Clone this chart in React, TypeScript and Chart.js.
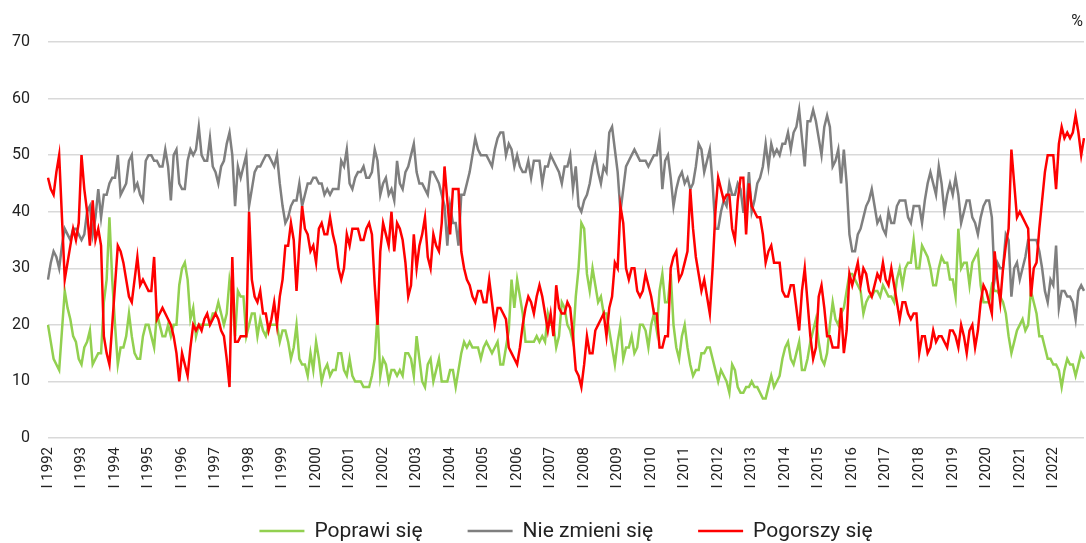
import React, { useEffect, useRef } from 'react';
import { Chart, registerables } from 'chart.js';

Chart.register(...registerables);

const MONTHS = ['I', 'II', 'III', 'IV', 'V', 'VI', 'VII', 'VIII', 'IX', 'X', 'XI', 'XII'];
const YEARS = [1992, 1993, 1994, 1995, 1996, 1997, 1998, 1999, 2000, 2001, 2002, 2003, 2004, 2005, 2006, 2007, 2008, 2009, 2010, 2011, 2012, 2013, 2014, 2015, 2016, 2017, 2018, 2019, 2020, 2021, 2022];
const LABELS = YEARS.flatMap((y) => MONTHS.map((m) => `${m} ${y}`));

const POPRAWI = [
  20, 17, 14, 13, 12, 19, 26, 23, 21, 18, 17, 14,
  13, 16, 17, 19, 13, 14, 15, 15, 24, 28, 39, 28,
  20, 13, 16, 16, 18, 22, 18, 15, 14, 14, 18, 20,
  20, 18, 16, 22, 20, 18, 18, 20, 18, 20, 20, 27,
  30, 31, 28, 21, 23, 18, 20, 20, 20, 20, 20, 22,
  22, 24, 22, 20, 22, 28, 25, 18, 26, 25, 25, 18,
  20, 22, 22, 18, 21, 19, 18, 20, 20, 20, 20, 17,
  19, 19, 17, 14, 16, 20, 14, 13, 13, 11, 15, 12,
  17, 14, 10, 12, 13, 11, 12, 12, 15, 15, 12, 11,
  14, 11, 10, 10, 10, 9, 9, 9, 11, 14, 22, 11,
  14, 13, 10, 12, 12, 11, 12, 11, 15, 15, 14, 11,
  18, 14, 10, 9, 13, 14, 10, 12, 14, 10, 10, 10,
  12, 12, 9, 12, 15, 17, 16, 17, 16, 16, 16, 14,
  16, 17, 16, 15, 16, 17, 13, 13, 16, 19, 28, 23,
  28, 25, 22, 17, 17, 17, 17, 18, 17, 18, 17, 22,
  20, 20, 16, 18, 24, 23, 20, 19, 17, 25, 30, 38,
  37, 29, 26, 30, 27, 24, 25, 22, 22, 19, 16, 13,
  17, 20, 14, 16, 16, 18, 15, 16, 20, 20, 19, 16,
  20, 22, 19, 26, 29, 24, 24, 29, 20, 16, 14, 18,
  20, 16, 13, 11, 12, 12, 15, 15, 16, 16, 14, 12,
  10, 12, 11, 10, 8, 13, 12, 9, 8, 8, 9, 9,
  10, 9, 9, 8, 7, 7, 9, 11, 9, 10, 11, 14,
  16, 17, 14, 13, 15, 17, 12, 12, 14, 17, 19, 21,
  17, 14, 13, 15, 20, 24, 21, 20, 22, 23, 26, 29,
  29, 28, 27, 26, 22, 24, 25, 25, 26, 26, 25, 27,
  26, 25, 25, 24, 28, 30, 27, 30, 31, 31, 35, 30,
  30, 34, 33, 32, 30, 27, 27, 30, 32, 31, 31, 28,
  28, 25, 37, 30, 31, 31, 27, 31, 32, 33, 27, 24,
  24, 24, 27, 26, 26, 25, 24, 22, 18, 15, 17, 19,
  20, 21, 19, 20, 26, 24, 22, 18, 18, 16, 14, 14,
  13, 13, 12, 9, 12, 14, 13, 13, 11, 13, 15, 14,
];

const NIE_ZMIENI = [
  28, 31, 33, 32, 30, 34, 37, 36, 35, 37, 37, 36,
  35, 36, 40, 41, 36, 39, 44, 39, 43, 43, 45, 46,
  46, 50, 43, 44, 45, 49, 50, 44, 45, 43, 42, 49,
  50, 50, 49, 49, 48, 48, 51, 48, 42, 50, 51, 45,
  44, 44, 49, 51, 50, 51, 55, 50, 49, 49, 53, 48,
  47, 45, 48, 49, 52, 54, 50, 41, 48, 46, 48, 50,
  41, 44, 47, 48, 48, 49, 50, 50, 49, 48, 50, 45,
  41, 38, 39, 41, 42, 42, 45, 41, 43, 45, 45, 46,
  46, 45, 45, 43, 44, 43, 44, 44, 44, 49, 48, 51,
  45, 44, 46, 47, 47, 48, 46, 46, 47, 51, 49, 43,
  45, 46, 43, 44, 42, 49, 45, 44, 47, 48, 50, 52,
  47, 45, 45, 44, 43, 47, 47, 46, 45, 43, 41, 34,
  41, 38, 38, 34, 43, 43, 45, 47, 50, 53, 51, 50,
  50, 50, 49, 48, 51, 53, 54, 54, 50, 52, 51, 48,
  50, 48, 47, 47, 49, 46, 49, 49, 49, 45, 48, 48,
  50, 49, 48, 47, 45, 48, 48, 50, 44, 48, 41, 40,
  42, 43, 45, 48, 50, 47, 45, 48, 47, 54, 55, 51,
  47, 40, 44, 48, 49, 50, 51, 50, 49, 49, 49, 48,
  49, 50, 50, 53, 44, 49, 50, 46, 41, 44, 46, 47,
  45, 46, 44, 45, 48, 52, 51, 47, 49, 51, 45, 37,
  37, 40, 42, 41, 45, 43, 43, 45, 44, 40, 40, 47,
  40, 42, 45, 46, 48, 52, 48, 52, 50, 51, 50, 52,
  52, 54, 51, 54, 55, 58, 53, 48, 56, 56, 58, 56,
  53, 50, 55, 57, 55, 48, 49, 51, 45, 51, 45, 36,
  33, 33, 36, 37, 39, 41, 42, 44, 41, 38, 39, 37,
  36, 40, 38, 38, 41, 42, 42, 42, 39, 38, 41, 41,
  41, 38, 42, 45, 47, 45, 43, 48, 45, 40, 43, 45,
  43, 46, 43, 38, 40, 42, 42, 39, 38, 36, 39, 41,
  42, 42, 39, 28, 31, 30, 30, 36, 35, 25, 30, 31,
  28, 30, 32, 35, 35, 35, 35, 33, 30, 26, 24, 28,
  27, 34, 23, 26, 26, 25, 25, 24, 21, 26, 27, 26,
];

const POGORSZY = [
  46, 44, 43, 47, 50, 39, 28, 31, 34, 37, 35, 38,
  50, 44, 40, 34, 42, 35, 37, 34, 18, 15, 13, 20,
  27, 34, 33, 31, 28, 25, 24, 28, 32, 27, 28, 27,
  26, 26, 32, 21, 22, 23, 22, 21, 20, 18, 15, 10,
  15, 13, 11, 16, 20, 19, 20, 19, 21, 22, 20, 21,
  22, 21, 19, 18, 14, 9, 32, 17, 17, 18, 18, 18,
  40, 28, 25, 24, 26, 22, 22, 19, 21, 24, 20, 25,
  28, 34, 34, 38, 35, 26, 34, 41, 37, 36, 33, 34,
  31, 37, 38, 36, 36, 39, 36, 34, 30, 28, 30, 36,
  34, 37, 37, 37, 35, 35, 37, 38, 36, 27, 20, 33,
  38, 36, 34, 40, 33, 38, 37, 35, 31, 25, 27, 36,
  30, 34, 36, 39, 32, 30, 36, 34, 33, 38, 48, 42,
  36, 44, 44, 44, 33, 30, 28, 27, 25, 24, 26, 26,
  24, 24, 28, 24, 20, 23, 23, 22, 21, 16, 15, 14,
  13, 16, 20, 23, 25, 24, 22, 25, 27, 25, 22, 19,
  22, 18, 27, 23, 22, 22, 24, 23, 18, 12, 11, 9,
  13, 18, 15, 15, 19, 20, 21, 22, 18, 23, 25, 31,
  30, 41, 38, 30, 28, 30, 30, 26, 25, 26, 29, 27,
  25, 22, 22, 16, 16, 18, 18, 30, 32, 33, 28, 29,
  31, 33, 44, 37, 32, 29, 26, 28, 25, 22, 30, 40,
  46, 44, 42, 43, 43, 37, 35, 42, 46, 46, 36, 45,
  41, 40, 39, 39, 36, 31, 33, 34, 31, 31, 31, 26,
  25, 25, 27, 27, 23, 19, 26, 30, 24, 18, 14, 16,
  25, 27, 23, 18, 18, 16, 16, 16, 23, 15, 19, 29,
  27, 29, 31, 27, 30, 29, 26, 25, 27, 29, 28, 31,
  28, 27, 30, 27, 24, 21, 24, 24, 22, 21, 22, 22,
  15, 18, 18, 15, 16, 19, 17, 18, 18, 17, 16, 19,
  19, 18, 16, 20, 18, 15, 19, 20, 16, 19, 24, 27,
  26, 24, 22, 33, 28, 24, 30, 34, 37, 51, 45, 39,
  40, 39, 38, 37, 25, 30, 31, 37, 42, 47, 50, 50,
  50, 44, 52, 55, 53, 54, 53, 54, 57, 54, 50, 53,
];

const SERIES_NAMES = ['Poprawi się', 'Nie zmieni się', 'Pogorszy się'];
const SERIES_COLORS = ['#92d050', '#7f7f7f', '#ff0000'];
const Y_TICKS = [0, 10, 20, 30, 40, 50, 60, 70];
const UNIT = '%';

const FONT = 'Roboto, "Noto Sans", sans-serif';

export default function App() {
  const ref = useRef<HTMLCanvasElement | null>(null);

  useEffect(() => {
    document.body.style.margin = '0';
    const canvas = ref.current;
    if (!canvas) return;

    const unitPlugin = {
      id: 'unitLabel',
      afterDraw(chart: any) {
        const { ctx, chartArea } = chart;
        ctx.save();
        ctx.font = `16px ${FONT}`;
        ctx.fillStyle = '#222';
        ctx.textAlign = 'right';
        ctx.textBaseline = 'middle';
        ctx.fillText(UNIT, chartArea.right - 1, 22);
        ctx.restore();
      },
    };

    // Legend drawn below the axis labels, centred on the plot area
    const legendPlugin = {
      id: 'bottomLegend',
      afterDraw(chart: any) {
        const { ctx, chartArea } = chart;
        const sample = 45;
        const gapText = 10;
        const gapItem = 45;
        const y = 531;
        ctx.save();
        ctx.font = `21px ${FONT}`;
        ctx.textBaseline = 'middle';
        ctx.textAlign = 'left';
        const items = chart.data.datasets.map((ds: any) => ({
          text: ds.label,
          color: ds.borderColor,
          w: ctx.measureText(ds.label).width,
        }));
        const total =
          items.reduce((s: number, it: any) => s + sample + gapText + it.w, 0) +
          gapItem * (items.length - 1);
        let x = (chartArea.left + chartArea.right) / 2 - total / 2;
        for (const it of items) {
          ctx.strokeStyle = it.color;
          ctx.lineWidth = 2.5;
          ctx.beginPath();
          ctx.moveTo(x, y);
          ctx.lineTo(x + sample, y);
          ctx.stroke();
          x += sample + gapText;
          ctx.fillStyle = '#222';
          ctx.fillText(it.text, x, y + 1);
          x += it.w + gapItem;
        }
        ctx.restore();
      },
    };

    const seriesData = [POPRAWI, NIE_ZMIENI, POGORSZY];

    const chart = new Chart(canvas, {
      type: 'line',
      data: {
        labels: LABELS,
        datasets: seriesData.map((d, i) => ({
          label: SERIES_NAMES[i],
          data: d,
          borderColor: SERIES_COLORS[i],
          backgroundColor: SERIES_COLORS[i],
          borderWidth: 2.5,
          pointRadius: 0,
          pointHoverRadius: 0,
          tension: 0,
          fill: false,
          order: 2 - i,
        })),
      },
      options: {
        animation: false,
        responsive: false,
        maintainAspectRatio: false,
        layout: { padding: { top: 42, right: 2, left: 0, bottom: 45 } },
        plugins: {
          legend: { display: false },
          tooltip: { enabled: false },
        },
        scales: {
          x: {
            type: 'category',
            offset: false,
            afterFit: (s: any) => {
              s.height = 60;
              s.paddingLeft = 0;
              s.paddingRight = 0;
            },
            grid: { display: false, drawTicks: false },
            border: { display: false },
            ticks: {
              autoSkip: false,
              maxRotation: 90,
              minRotation: 90,
              padding: 9,
              color: '#222',
              font: { family: FONT, size: 15 },
              callback: (_v: any, i: number) => (i % 12 === 0 ? LABELS[i] : ''),
            },
          },
          y: {
            min: Y_TICKS[0],
            max: Y_TICKS[Y_TICKS.length - 1],
            afterFit: (s: any) => {
              s.width = 48;
            },
            grid: { color: '#d9d9d9', lineWidth: 1.5, drawTicks: false },
            border: { display: false },
            ticks: {
              stepSize: 10,
              padding: 18,
              color: '#222',
              font: { family: FONT, size: 16 },
            },
          },
        },
      },
      plugins: [unitPlugin, legendPlugin],
    });

    return () => chart.destroy();
  }, []);

  return (
    <div style={{ width: 1086, height: 543 }}>
      <canvas ref={ref} width={1086} height={543} style={{ display: 'block' }} />
    </div>
  );
}
